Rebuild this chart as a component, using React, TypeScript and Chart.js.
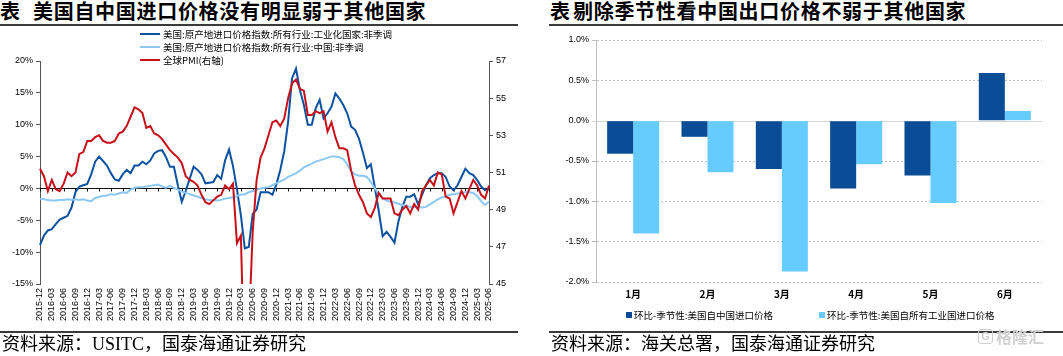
import React, { useEffect, useRef } from "react";
import { Chart, registerables } from "chart.js";

Chart.register(...registerables);

// ---------------- Left chart data ----------------
const months: string[] = [
  "2015-12",
  "2016-01", "2016-02", "2016-03", "2016-04", "2016-05", "2016-06", "2016-07", "2016-08", "2016-09", "2016-10", "2016-11", "2016-12",
  "2017-01", "2017-02", "2017-03", "2017-04", "2017-05", "2017-06", "2017-07", "2017-08", "2017-09", "2017-10", "2017-11", "2017-12",
  "2018-01", "2018-02", "2018-03", "2018-04", "2018-05", "2018-06", "2018-07", "2018-08", "2018-09", "2018-10", "2018-11", "2018-12",
  "2019-01", "2019-02", "2019-03", "2019-04", "2019-05", "2019-06", "2019-07", "2019-08", "2019-09", "2019-10", "2019-11", "2019-12",
  "2020-01", "2020-02", "2020-03", "2020-04", "2020-05", "2020-06", "2020-07", "2020-08", "2020-09", "2020-10", "2020-11", "2020-12",
  "2021-01", "2021-02", "2021-03", "2021-04", "2021-05", "2021-06", "2021-07", "2021-08", "2021-09", "2021-10", "2021-11", "2021-12",
  "2022-01", "2022-02", "2022-03", "2022-04", "2022-05", "2022-06", "2022-07", "2022-08", "2022-09", "2022-10", "2022-11", "2022-12",
  "2023-01", "2023-02", "2023-03", "2023-04", "2023-05", "2023-06", "2023-07", "2023-08", "2023-09", "2023-10", "2023-11", "2023-12",
  "2024-01", "2024-02", "2024-03", "2024-04", "2024-05", "2024-06", "2024-07", "2024-08", "2024-09", "2024-10", "2024-11", "2024-12",
  "2025-01", "2025-02", "2025-03", "2025-04", "2025-05", "2025-06",
];

// 美国:原产地进口价格指数:所有行业:工业化国家:非季调 (YoY, %)
const industrialYoY: number[] = [
  -8.9, -7.4, -6.6, -6.4, -5.6, -4.9, -4.6, -4.3, -3.0, -0.6,
  0.3, 0.5, 0.7, 2.2, 4.2, 5.0, 4.3, 3.6, 2.4, 1.4,
  1.2, 2.2, 2.9, 2.4, 3.6, 3.6, 4.2, 3.8, 4.4, 5.5,
  5.9, 6.0, 4.9, 3.4, 3.4, 0.5, -2.1, -0.4, 1.5, 3.4,
  2.9, 2.2, 0.8, 0.9, 1.0, 2.1, 1.5, 4.4, 6.1, 3.5,
  -0.1, -4.2, -9.4, -9.2, -4.0, -3.3, -0.6, -0.6, -0.6, -1.0,
  0.6, 2.9, 5.8, 10.5, 17.3, 18.8, 15.4, 13.1, 10.0, 10.0,
  12.6, 13.9, 11.0, 11.8, 12.8, 14.9, 14.1, 13.1, 11.8, 9.7,
  9.2, 7.8, 5.6, 3.2, 3.8, 0.2, -3.5, -7.5, -6.8, -7.6,
  -8.5, -5.2, -2.9, -1.3, -1.3, -0.9, -2.5, -1.0, 0.5, 1.6,
  2.1, 2.4, 2.4, 1.8, 0.3, -0.3, 0.5, 1.8, 3.1, 2.4,
  2.1, 1.3, 0.3, -0.3, 0.0,
];

// 美国:原产地进口价格指数:所有行业:中国:非季调 (YoY, %)
const chinaYoY: number[] = [
  -1.6, -1.7, -1.8, -1.9, -1.9, -1.8, -1.8, -1.7, -1.8, -1.7,
  -1.8, -1.7, -1.9, -2.0, -1.5, -1.3, -1.2, -1.1, -0.9, -1.0,
  -0.8, -0.6, -0.7, -0.2, 0.1, 0.2, 0.2, 0.3, 0.4, 0.5,
  0.6, 0.3, 0.1, 0.4, 0.1, -0.2, -0.5, -0.7, -0.9, -1.1,
  -1.3, -1.5, -1.7, -1.8, -1.8, -1.9, -1.8, -1.6, -1.5, -1.4,
  -1.2, -1.0, -0.9, -0.6, -0.4, -0.2, 0.0, 0.1, 0.2, 0.5,
  0.8, 1.1, 1.4, 1.8, 2.1, 2.4, 2.8, 3.3, 3.6, 3.9,
  4.2, 4.4, 4.6, 4.8, 5.0, 5.0, 4.9, 4.6, 3.8, 2.7,
  2.2, 2.0, 2.0, 1.8, 1.0, 0.0, -0.8, -1.5, -1.9, -2.1,
  -2.2, -2.4, -2.6, -2.7, -2.9, -2.9, -2.9, -3.0, -2.9, -2.5,
  -2.1, -1.7, -1.4, -1.3, -1.0, -0.9, -0.8, -0.7, -0.6, -0.6,
  -0.7, -1.2, -2.0, -2.6, -2.1,
];

// 全球PMI (右轴)
const globalPMI: number[] = [
  51.2, 50.8, 50.0, 50.6, 50.1, 50.0, 50.4, 51.0, 50.8, 51.0,
  52.0, 52.1, 52.7, 52.7, 52.9, 53.0, 52.7, 52.6, 52.6, 52.7,
  53.1, 53.2, 53.5, 54.0, 54.5, 54.4, 54.2, 53.4, 53.5, 53.1,
  53.0, 52.8, 52.5, 52.2, 52.0, 51.8, 51.5, 50.8, 50.6, 50.5,
  50.3, 49.8, 49.4, 49.3, 49.5, 49.7, 49.8, 50.3, 50.1, 50.4,
  47.2, 47.6, 39.6, 42.4, 47.8, 50.6, 51.8, 52.3, 53.0, 53.7,
  53.8, 53.5, 53.9, 55.0, 55.8, 56.0, 55.5, 55.4, 54.1, 54.1,
  54.3, 54.2, 54.3, 53.2, 53.7, 52.9, 52.3, 52.3, 52.2, 51.1,
  50.3, 49.8, 49.4, 48.8, 48.6, 49.1, 49.9, 49.6, 49.6, 49.6,
  48.8, 48.7, 49.0, 49.2, 48.8, 49.3, 49.0, 50.0, 50.3, 50.6,
  50.3, 51.0, 50.9, 49.7, 49.6, 48.8, 49.4, 50.0, 49.6, 50.1,
  50.6, 50.3, 49.8, 49.6, 50.3,
];

const leftSeriesNames: string[] = [
  "美国:原产地进口价格指数:所有行业:工业化国家:非季调",
  "美国:原产地进口价格指数:所有行业:中国:非季调",
  "全球PMI(右轴)",
];

// ---------------- Right chart data ----------------
const barCategories: string[] = ["1月", "2月", "3月", "4月", "5月", "6月"];
const chinaMoM: number[] = [-0.41, -0.2, -0.6, -0.84, -0.68, 0.59];
const industrialMoM: number[] = [-1.4, -0.64, -1.87, -0.54, -1.02, 0.12];
const barSeriesNames: string[] = [
  "环比-季节性:美国自中国进口价格",
  "环比-季节性:美国自所有工业国进口价格",
];

const C_DARK = "#0D52A0";
const C_LIGHT = "#8CC8F2";
const C_RED = "#C8101A";
const B_DARK = "#0A4C96";
const B_LIGHT = "#66CCFF";

const SANS = '"Liberation Sans", Arial, "Noto Sans CJK SC", sans-serif';
const CJK = '"Noto Sans CJK SC", "Liberation Sans", sans-serif';

const zeroAxisPlugin = {
  id: "zeroAxis",
  beforeDatasetsDraw(chart: any) {
    const { ctx, chartArea, scales } = chart;
    const y = Math.round(scales.y.getPixelForValue(0)) + 0.5;
    ctx.save();
    ctx.strokeStyle = "#111";
    ctx.lineWidth = 1;
    ctx.beginPath();
    ctx.moveTo(chartArea.left, y);
    ctx.lineTo(chartArea.right, y);
    for (let i = 0; i < months.length; i += 3) {
      const x = Math.round(scales.x.getPixelForValue(i)) + 0.5;
      ctx.moveTo(x, y);
      ctx.lineTo(x, y + 3);
    }
    ctx.stroke();
    ctx.restore();
  },
};

const barZeroPlugin = {
  id: "barZero",
  beforeDatasetsDraw(chart: any) {
    const { ctx, chartArea, scales } = chart;
    const y = Math.round(scales.y.getPixelForValue(0)) + 0.5;
    ctx.save();
    ctx.strokeStyle = "#d4d4d4";
    ctx.lineWidth = 1;
    ctx.beginPath();
    ctx.moveTo(chartArea.left - 4, y);
    ctx.lineTo(chartArea.right, y);
    ctx.stroke();
    ctx.restore();
  },
};

function LeftChart() {
  const ref = useRef<HTMLCanvasElement>(null);
  useEffect(() => {
    const chart = new Chart(ref.current as HTMLCanvasElement, {
      type: "line",
      data: {
        labels: months,
        datasets: [
          {
            label: leftSeriesNames[2],
            data: globalPMI,
            yAxisID: "y1",
            borderColor: C_RED,
            borderWidth: 2,
            pointRadius: 0,
            order: 0,
          },
          {
            label: leftSeriesNames[1],
            data: chinaYoY,
            yAxisID: "y",
            borderColor: C_LIGHT,
            borderWidth: 2,
            pointRadius: 0,
            order: 1,
          },
          {
            label: leftSeriesNames[0],
            data: industrialYoY,
            yAxisID: "y",
            borderColor: C_DARK,
            borderWidth: 2,
            pointRadius: 0,
            order: 2,
          },
        ],
      },
      options: {
        animation: false,
        responsive: false,
        layout: { padding: { top: 35, left: 0, right: 0, bottom: 0 } },
        plugins: { legend: { display: false }, tooltip: { enabled: false } },
        elements: { line: { tension: 0 } },
        scales: {
          x: {
            type: "category",
            grid: { display: false, drawTicks: false },
            border: { display: false },
            ticks: {
              autoSkip: false,
              minRotation: 90,
              maxRotation: 90,
              padding: 4,
              color: "#000",
              font: { size: 9, family: SANS },
              callback: (_v: any, i: number) => (i % 3 === 0 ? months[i] : null),
            },
            afterFit: (s: any) => {
              s.height = 48;
            },
          },
          y: {
            position: "left",
            min: -15,
            max: 20,
            ticks: {
              stepSize: 5,
              padding: 3,
              color: "#000",
              font: { size: 9, family: SANS },
              callback: (v: any) => `${v}%`,
            },
            grid: { drawOnChartArea: false, drawTicks: true, tickLength: 4, color: "#555" },
            border: { display: true, color: "#555", width: 1 },
            afterFit: (s: any) => {
              s.width = 40;
            },
          },
          y1: {
            position: "right",
            min: 45,
            max: 57,
            ticks: {
              stepSize: 2,
              padding: 3,
              color: "#000",
              font: { size: 9, family: SANS },
            },
            grid: { drawOnChartArea: false, drawTicks: true, tickLength: 4, color: "#555" },
            border: { display: true, color: "#555", width: 1 },
            afterFit: (s: any) => {
              s.width = 36;
            },
          },
        },
      },
      plugins: [zeroAxisPlugin],
    } as any);
    return () => chart.destroy();
  }, []);
  return (
    <canvas
      ref={ref}
      width={525}
      height={306}
      style={{ position: "absolute", left: 0, top: 26, width: 525, height: 306 }}
    />
  );
}

function RightChart() {
  const ref = useRef<HTMLCanvasElement>(null);
  useEffect(() => {
    const chart = new Chart(ref.current as HTMLCanvasElement, {
      type: "bar",
      data: {
        labels: barCategories,
        datasets: [
          {
            label: barSeriesNames[0],
            data: chinaMoM,
            backgroundColor: B_DARK,
            categoryPercentage: 0.7,
            barPercentage: 1.0,
          },
          {
            label: barSeriesNames[1],
            data: industrialMoM,
            backgroundColor: B_LIGHT,
            categoryPercentage: 0.7,
            barPercentage: 1.0,
          },
        ],
      },
      options: {
        animation: false,
        responsive: false,
        layout: { padding: { top: 14, left: 0, right: 21, bottom: 0 } },
        plugins: { legend: { display: false }, tooltip: { enabled: false } },
        scales: {
          x: {
            grid: { display: false, drawTicks: false },
            border: { display: false },
            ticks: {
              padding: 6,
              color: "#000",
              font: { size: 10, family: CJK, weight: "bold" },
            },
            afterFit: (s: any) => {
              s.height = 50;
            },
          },
          y: {
            min: -2,
            max: 1,
            ticks: {
              stepSize: 0.5,
              padding: 3,
              color: "#000",
              font: { size: 9, family: SANS },
              callback: (v: any) => `${Number(v).toFixed(1)}%`,
            },
            grid: {
              drawTicks: true,
              tickLength: 4,
              color: (c: any) => (c.tick && c.tick.value === 0 ? "rgba(0,0,0,0)" : "#bdbdbd"),
            },
            border: { display: true, color: "#bdbdbd", width: 1, dash: [2, 2] },
            afterFit: (s: any) => {
              s.width = 51;
            },
          },
        },
      },
      plugins: [barZeroPlugin],
    } as any);
    return () => chart.destroy();
  }, []);
  return (
    <canvas
      ref={ref}
      width={518}
      height={306}
      style={{ position: "absolute", left: 545, top: 26, width: 518, height: 306 }}
    />
  );
}

const titleStyle: React.CSSProperties = {
  position: "absolute",
  top: 0,
  fontFamily: CJK,
  fontWeight: 700,
  fontSize: 20,
  lineHeight: "22px",
  color: "#000",
  whiteSpace: "nowrap",
  letterSpacing: "0.7px",
};

const footStyle: React.CSSProperties = {
  position: "absolute",
  top: 334,
  fontFamily: '"Liberation Serif", "Noto Sans CJK SC", serif',
  fontSize: 18,
  lineHeight: "20px",
  color: "#000",
  whiteSpace: "nowrap",
};

const ruleStyle = (left: number, top: number, width: number): React.CSSProperties => ({
  position: "absolute",
  left,
  top,
  width,
  height: 2,
  background: "#3a3a3a",
});

const legendText: React.CSSProperties = {
  position: "absolute",
  fontFamily: CJK,
  fontSize: 9.5,
  lineHeight: "12px",
  color: "#000",
  whiteSpace: "nowrap",
};

export default function App() {
  const leftLegendColors = [C_DARK, C_LIGHT, C_RED];
  const leftLegendY = [34, 47, 60];
  return (
    <div
      style={{
        position: "absolute",
        left: 0,
        top: 0,
        width: 1063,
        height: 356,
        background: "#fff",
        overflow: "hidden",
      }}
    >
      {/* Left panel */}
      <div style={{ ...titleStyle, left: 0 }}>表</div>
      <div style={{ ...titleStyle, left: 33 }}>美国自中国进口价格没有明显弱于其他国家</div>
      <div style={ruleStyle(0, 24, 518)} />
      <LeftChart />
      {leftSeriesNames.map((name, i) => (
        <React.Fragment key={name}>
          <div
            style={{
              position: "absolute",
              left: 140,
              top: leftLegendY[i] - 1,
              width: 20,
              height: 2,
              background: leftLegendColors[i],
            }}
          />
          <div style={{ ...legendText, left: 163, top: leftLegendY[i] - 6 }}>{name}</div>
        </React.Fragment>
      ))}
      <div style={ruleStyle(0, 331, 518)} />
      <div style={{ ...footStyle, left: 2 }}>资料来源：USITC，国泰海通证券研究</div>

      {/* Right panel */}
      <div style={{ ...titleStyle, left: 550 }}>表</div>
      <div style={{ ...titleStyle, left: 573 }}>剔除季节性看中国出口价格不弱于其他国家</div>
      <div style={ruleStyle(549, 24, 514)} />
      <RightChart />
      <div style={{ position: "absolute", left: 626, top: 312, width: 6, height: 6, background: B_DARK }} />
      <div style={{ ...legendText, fontSize: 9.5, left: 634, top: 309 }}>{barSeriesNames[0]}</div>
      <div style={{ position: "absolute", left: 819, top: 312, width: 6, height: 6, background: B_LIGHT }} />
      <div style={{ ...legendText, fontSize: 9.5, left: 827, top: 309 }}>{barSeriesNames[1]}</div>
      <div style={ruleStyle(549, 331, 514)} />
      <div style={{ ...footStyle, left: 551 }}>资料来源：海关总署，国泰海通证券研究</div>
      <div
        style={{
          position: "absolute",
          left: 978,
          top: 329,
          width: 13,
          height: 13,
          border: "1.5px solid #d0d0d0",
          borderRadius: 3,
          color: "#d0d0d0",
          fontFamily: SANS,
          fontSize: 11,
          lineHeight: "13px",
          textAlign: "center",
          fontWeight: 700,
        }}
      >
        G
      </div>
      <div
        style={{
          position: "absolute",
          left: 996,
          top: 327,
          fontFamily: CJK,
          fontSize: 16,
          lineHeight: "18px",
          color: "#d0d0d0",
          fontWeight: 700,
          whiteSpace: "nowrap",
        }}
      >
        格隆汇
      </div>
    </div>
  );
}
